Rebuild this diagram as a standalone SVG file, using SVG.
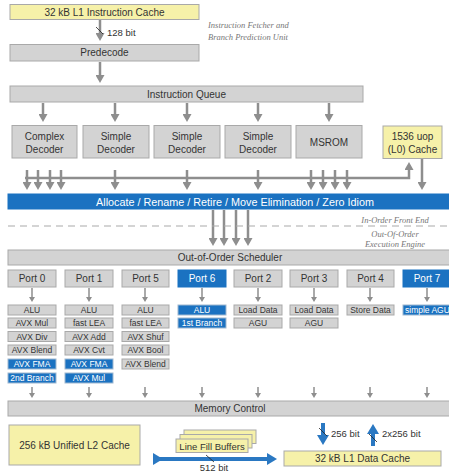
<svg xmlns="http://www.w3.org/2000/svg" width="449" height="473" viewBox="0 0 449 473">
<style>
  .g{fill:#d3d3d3;stroke:#a9a9a9;stroke-width:1}
  .y{fill:#f6f1a9;stroke:#a9a9a9;stroke-width:1}
  .b{fill:#1b72c1;stroke:#1b72c1;stroke-width:1}
  .ub{fill:#1b72c1;stroke:#9fb8d0;stroke-width:1}
  text{font-family:"Liberation Sans","DejaVu Sans",sans-serif;fill:#333;text-anchor:middle}
  .t10{font-size:10px}
  .t11{font-size:10.8px}
  .t9{font-size:9.5px}
  .t8{font-size:8.5px}
  .w{fill:#fff}
  .it{font-family:"Liberation Serif","DejaVu Serif",serif;font-style:italic;font-size:8.5px;fill:#777}
  .ar{stroke:#8e8e8e;stroke-width:2.5;fill:none}
  .ars{stroke:#8e8e8e;stroke-width:1.5;fill:none}
  .ba{stroke:#2a78c2;stroke-width:4;fill:none}
</style>
<defs>
  <marker id="ah" markerUnits="userSpaceOnUse" markerWidth="9" markerHeight="9" refX="5" refY="4.5" orient="auto">
    <path d="M0,0 L8,4.5 L0,9 z" fill="#8e8e8e"/>
  </marker>
  <marker id="ahs" markerUnits="userSpaceOnUse" markerWidth="6" markerHeight="6" refX="3" refY="3" orient="auto">
    <path d="M0,0 L5,3 L0,6 z" fill="#8e8e8e"/>
  </marker>
  <marker id="bh" markerUnits="userSpaceOnUse" markerWidth="10" markerHeight="12" refX="4" refY="6" orient="auto">
    <path d="M0,0 L10,6 L0,12 z" fill="#2a78c2"/>
  </marker>
</defs>

<g id="connectors">
  <line class="ar" x1="100" y1="20" x2="100" y2="38" marker-end="url(#ah)"/>
  <line x1="96" y1="27" x2="103" y2="34" stroke="#222" stroke-width="0.8"/>
  <line class="ar" x1="100" y1="62" x2="100" y2="80" marker-end="url(#ah)"/>
  <line class="ar" x1="43" y1="103" x2="43" y2="119" marker-end="url(#ah)"/>
  <line class="ar" x1="115" y1="103" x2="115" y2="119" marker-end="url(#ah)"/>
  <line class="ar" x1="187" y1="103" x2="187" y2="119" marker-end="url(#ah)"/>
  <line class="ar" x1="258" y1="103" x2="258" y2="119" marker-end="url(#ah)"/>
  <line class="ar" x1="329" y1="103" x2="329" y2="119" marker-end="url(#ah)"/>
  <polyline class="ar" points="25,178 409,178 409,165" marker-end="url(#ah)"/>
  <line class="ar" x1="27" y1="170" x2="27" y2="187" marker-end="url(#ah)"/>
  <line class="ar" x1="38" y1="170" x2="38" y2="187" marker-end="url(#ah)"/>
  <line class="ar" x1="50" y1="170" x2="50" y2="187" marker-end="url(#ah)"/>
  <line class="ar" x1="61" y1="170" x2="61" y2="187" marker-end="url(#ah)"/>
  <line class="ar" x1="115" y1="170" x2="115" y2="187" marker-end="url(#ah)"/>
  <line class="ar" x1="187" y1="170" x2="187" y2="187" marker-end="url(#ah)"/>
  <line class="ar" x1="258" y1="170" x2="258" y2="187" marker-end="url(#ah)"/>
  <line class="ar" x1="311" y1="170" x2="311" y2="187" marker-end="url(#ah)"/>
  <line class="ar" x1="323" y1="170" x2="323" y2="187" marker-end="url(#ah)"/>
  <line class="ar" x1="335" y1="170" x2="335" y2="187" marker-end="url(#ah)"/>
  <line class="ar" x1="347" y1="170" x2="347" y2="187" marker-end="url(#ah)"/>
  <line class="ar" x1="422" y1="159" x2="422" y2="187" marker-end="url(#ah)"/>
  <line class="ar" x1="213" y1="210" x2="213" y2="243" marker-end="url(#ah)"/>
  <line class="ar" x1="224" y1="210" x2="224" y2="243" marker-end="url(#ah)"/>
  <line class="ar" x1="236" y1="210" x2="236" y2="243" marker-end="url(#ah)"/>
  <line class="ar" x1="248" y1="210" x2="248" y2="243" marker-end="url(#ah)"/>
  <line class="ars" x1="32" y1="288" x2="32" y2="300" marker-end="url(#ahs)"/>
  <line class="ars" x1="89" y1="288" x2="89" y2="300" marker-end="url(#ahs)"/>
  <line class="ars" x1="145" y1="288" x2="145" y2="300" marker-end="url(#ahs)"/>
  <line class="ars" x1="202" y1="288" x2="202" y2="300" marker-end="url(#ahs)"/>
  <line class="ars" x1="258" y1="288" x2="258" y2="300" marker-end="url(#ahs)"/>
  <line class="ars" x1="314" y1="288" x2="314" y2="300" marker-end="url(#ahs)"/>
  <line class="ars" x1="370" y1="288" x2="370" y2="300" marker-end="url(#ahs)"/>
  <line class="ars" x1="427" y1="288" x2="427" y2="300" marker-end="url(#ahs)"/>
  <line class="ars" x1="32" y1="387" x2="32" y2="396" marker-end="url(#ahs)"/>
  <line class="ars" x1="89" y1="387" x2="89" y2="396" marker-end="url(#ahs)"/>
  <line class="ars" x1="145" y1="387" x2="145" y2="396" marker-end="url(#ahs)"/>
  <line class="ars" x1="202" y1="387" x2="202" y2="396" marker-end="url(#ahs)"/>
  <line class="ars" x1="258" y1="387" x2="258" y2="396" marker-end="url(#ahs)"/>
  <line class="ars" x1="314" y1="387" x2="314" y2="396" marker-end="url(#ahs)"/>
  <line class="ars" x1="370" y1="387" x2="370" y2="396" marker-end="url(#ahs)"/>
  <line class="ars" x1="427" y1="387" x2="427" y2="396" marker-end="url(#ahs)"/>
  <line class="ba" x1="157" y1="459" x2="271" y2="459" marker-start="url(#bh)" marker-end="url(#bh)"/>
  <line x1="206" y1="455" x2="214" y2="462" stroke="#222" stroke-width="0.8"/>
  <line class="ba" x1="323" y1="423" x2="323" y2="439" marker-end="url(#bh)"/>
  <line x1="319" y1="428" x2="327" y2="436" stroke="#222" stroke-width="0.8"/>
  <line class="ba" x1="373" y1="446" x2="373" y2="430" marker-end="url(#bh)"/>
  <line x1="369" y1="434" x2="377" y2="442" stroke="#222" stroke-width="0.8"/>
  <line x1="8" y1="226" x2="449" y2="226" stroke="#a9a9a9" stroke-width="1.2" stroke-dasharray="7,5"/>
</g>

<text class="t9" x="107" y="36" style="text-anchor:start">128 bit</text>
<text class="it" x="208" y="28" style="text-anchor:start">Instruction Fetcher and</text>
<text class="it" x="208" y="40" style="text-anchor:start">Branch Prediction Unit</text>
<text class="it" x="395" y="223">In-Order Front End</text>
<text class="it" x="395" y="237">Out-Of-Order</text>
<text class="it" x="395" y="247">Execution Engine</text>

<g id="l1i"><rect class="y" x="10" y="4.5" width="189" height="15"/><text class="t10" x="104.5" y="15.5">32 kB L1 Instruction Cache</text></g>
<g id="predecode"><rect class="g" x="10" y="44.5" width="189" height="16.5"/><text class="t10" x="104.5" y="56">Predecode</text></g>
<g id="iq"><rect class="g" x="10" y="86" width="353" height="16"/><text class="t10" x="186.5" y="97.5">Instruction Queue</text></g>

<g id="complex-decoder"><rect class="g" x="12" y="125.5" width="65" height="32.5"/><text class="t10" x="44.5" y="139.5">Complex</text><text class="t10" x="44.5" y="152.5">Decoder</text></g>
<g id="simple-decoder-1"><rect class="g" x="83" y="125.5" width="66" height="32.5"/><text class="t10" x="116" y="139.5">Simple</text><text class="t10" x="116" y="152.5">Decoder</text></g>
<g id="simple-decoder-2"><rect class="g" x="154" y="125.5" width="66" height="32.5"/><text class="t10" x="187" y="139.5">Simple</text><text class="t10" x="187" y="152.5">Decoder</text></g>
<g id="simple-decoder-3"><rect class="g" x="225" y="125.5" width="66" height="32.5"/><text class="t10" x="258" y="139.5">Simple</text><text class="t10" x="258" y="152.5">Decoder</text></g>
<g id="msrom"><rect class="g" x="296" y="125.5" width="66" height="32.5"/><text class="t10" x="329" y="146">MSROM</text></g>
<g id="l0"><rect class="y" x="383" y="126" width="59" height="32.5"/><text class="t10" x="412.5" y="139.5">1536 uop</text><text class="t10" x="412.5" y="152.5">(L0) Cache</text></g>

<g id="allocate"><rect class="b" x="8" y="194" width="442" height="15"/><text class="t11 w" x="235" y="205.5">Allocate / Rename / Retire / Move Elimination / Zero Idiom</text></g>
<g id="scheduler"><rect class="g" x="8" y="250" width="442" height="15"/><text class="t10" x="230" y="261">Out-of-Order Scheduler</text></g>

<g id="port0"><rect class="g" x="8" y="270" width="48" height="17"/><text class="t10" x="32" y="282">Port 0</text>
  <rect class="g" x="8" y="305" width="48" height="10"/><text class="t8" x="32" y="313">ALU</text>
  <rect class="g" x="8" y="318" width="48" height="10"/><text class="t8" x="32" y="326">AVX Mul</text>
  <rect class="g" x="8" y="331.5" width="48" height="10"/><text class="t8" x="32" y="339.5">AVX Div</text>
  <rect class="g" x="8" y="345" width="48" height="10"/><text class="t8" x="32" y="353">AVX Blend</text>
  <rect class="ub" x="8" y="359" width="48" height="10"/><text class="t8 w" x="32" y="367">AVX FMA</text>
  <rect class="ub" x="8" y="373" width="48" height="10"/><text class="t8 w" x="32" y="381">2nd Branch</text>
</g>
<g id="port1"><rect class="g" x="65" y="270" width="48" height="17"/><text class="t10" x="89" y="282">Port 1</text>
  <rect class="g" x="65" y="305" width="48" height="10"/><text class="t8" x="89" y="313">ALU</text>
  <rect class="g" x="65" y="318" width="48" height="10"/><text class="t8" x="89" y="326">fast LEA</text>
  <rect class="g" x="65" y="331.5" width="48" height="10"/><text class="t8" x="89" y="339.5">AVX Add</text>
  <rect class="g" x="65" y="345" width="48" height="10"/><text class="t8" x="89" y="353">AVX Cvt</text>
  <rect class="ub" x="65" y="359" width="48" height="10"/><text class="t8 w" x="89" y="367">AVX FMA</text>
  <rect class="ub" x="65" y="373" width="48" height="10"/><text class="t8 w" x="89" y="381">AVX Mul</text>
</g>
<g id="port5"><rect class="g" x="122" y="270" width="47" height="17"/><text class="t10" x="145.5" y="282">Port 5</text>
  <rect class="g" x="122" y="305" width="47" height="10"/><text class="t8" x="145.5" y="313">ALU</text>
  <rect class="g" x="122" y="318" width="47" height="10"/><text class="t8" x="145.5" y="326">fast LEA</text>
  <rect class="g" x="122" y="331.5" width="47" height="10"/><text class="t8" x="145.5" y="339.5">AVX Shuf</text>
  <rect class="g" x="122" y="345" width="47" height="10"/><text class="t8" x="145.5" y="353">AVX Bool</text>
  <rect class="g" x="122" y="359" width="47" height="10"/><text class="t8" x="145.5" y="367">AVX Blend</text>
</g>
<g id="port6"><rect class="b" x="178" y="270" width="48" height="17"/><text class="t10 w" x="202" y="282">Port 6</text>
  <rect class="ub" x="178" y="305" width="48" height="10"/><text class="t8 w" x="202" y="313">ALU</text>
  <rect class="ub" x="178" y="318" width="48" height="10"/><text class="t8 w" x="202" y="326">1st Branch</text>
</g>
<g id="port2"><rect class="g" x="234" y="270" width="48" height="17"/><text class="t10" x="258" y="282">Port 2</text>
  <rect class="g" x="234" y="305" width="48" height="10"/><text class="t8" x="258" y="313">Load Data</text>
  <rect class="g" x="234" y="318" width="48" height="10"/><text class="t8" x="258" y="326">AGU</text>
</g>
<g id="port3"><rect class="g" x="290" y="270" width="48" height="17"/><text class="t10" x="314" y="282">Port 3</text>
  <rect class="g" x="290" y="305" width="48" height="10"/><text class="t8" x="314" y="313">Load Data</text>
  <rect class="g" x="290" y="318" width="48" height="10"/><text class="t8" x="314" y="326">AGU</text>
</g>
<g id="port4"><rect class="g" x="347" y="270" width="47" height="17"/><text class="t10" x="370.5" y="282">Port 4</text>
  <rect class="g" x="347" y="305" width="47" height="10"/><text class="t8" x="370.5" y="313">Store Data</text>
</g>
<g id="port7"><rect class="b" x="403" y="270" width="48" height="17"/><text class="t10 w" x="427" y="282">Port 7</text>
  <rect class="ub" x="403" y="305" width="48" height="10"/><text class="t8 w" x="405" y="313" style="text-anchor:start">simple AGU</text>
</g>

<g id="memory-control"><rect class="g" x="8" y="401" width="442" height="15"/><text class="t10" x="230" y="412">Memory Control</text></g>
<g id="l2"><rect class="y" x="9" y="425" width="131" height="40"/><text class="t10" x="74.5" y="448.5">256 kB Unified L2 Cache</text></g>
<g id="lfb">
  <rect class="y" x="184" y="430" width="72" height="13.5"/>
  <rect class="y" x="180" y="434.5" width="72" height="13.5"/>
  <rect class="y" x="176" y="439" width="72" height="13.5"/>
  <text class="t9" x="212" y="449.5">Line Fill Buffers</text>
</g>
<text class="t9" x="214" y="471">512 bit</text>
<g id="l1d"><rect class="y" x="284" y="451" width="157" height="15"/><text class="t10" x="362.5" y="462">32 kB L1 Data Cache</text></g>
<text class="t9" x="331" y="437" style="text-anchor:start">256 bit</text>
<text class="t9" x="382" y="437" style="text-anchor:start">2x256 bit</text>
</svg>
